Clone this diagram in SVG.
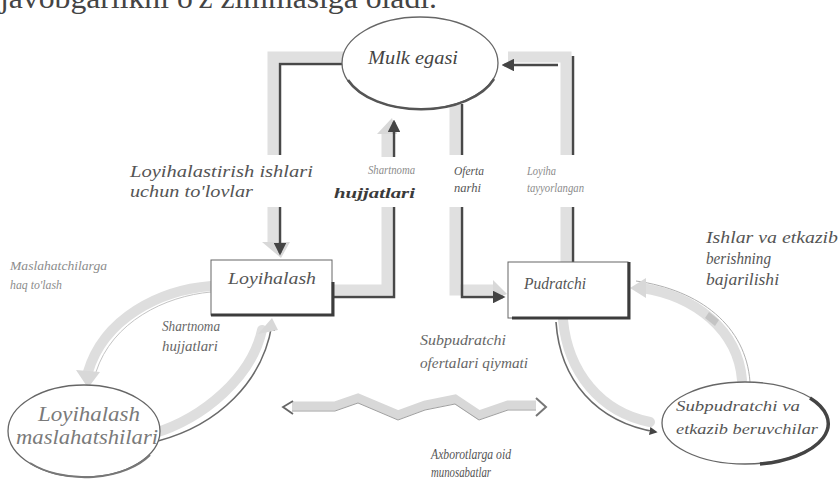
<svg xmlns="http://www.w3.org/2000/svg" width="840" height="481" viewBox="0 0 840 481">
<defs>
<style>
.t{font-family:"Liberation Serif","DejaVu Serif",serif;font-style:italic;fill:#555}
.l{fill:#8c8c8c}
.b{font-weight:bold;fill:#3a3a3a}
.box{fill:#fff;stroke:#666;stroke-width:1}
.sh{fill:none;stroke:#3c3c3c;stroke-width:3}
.band{fill:none;stroke:#e0e0e0;stroke-width:11}
.bandc{fill:none;stroke:#dedede;stroke-width:10;stroke-linecap:round}
.dk{fill:none;stroke:#484848;stroke-width:2.5}
.th{fill:none;stroke:#6a6a6a;stroke-width:1.6}
.gh{fill:#d8d8d8}
.ell{fill:#fff;stroke:#666;stroke-width:1.3}
</style>
<marker id="ah" viewBox="0 0 10 10" refX="8" refY="5" markerWidth="5" markerHeight="5" orient="auto"><path d="M0,0 L10,5 L0,10 z" fill="#444"/></marker>
</defs>
<rect width="840" height="481" fill="#fff"/>
<text class="t" x="0" y="8" font-size="30" style="font-style:normal;fill:#444" textLength="437" lengthAdjust="spacingAndGlyphs">javobgarlikni o'z zimmasiga oladi.</text>

<g id="connectors">
  <!-- Mulk egasi -> Loyihalash -->
  <path class="band" d="M345 57 H273 V155 M273 207 V244"/>
  <polygon class="gh" points="262,242 290,242 281,258"/>
  <path class="dk" d="M345 64 H280 V155 M280 207 V253" marker-end="url(#ah)"/>
  <!-- Loyihalash -> Mulk egasi (Shartnoma hujjatlari) -->
  <path class="band" d="M333 290 H387 V207 M387 157 V132"/>
  <polygon class="gh" points="377,134 397,134 392,118"/>
  <path class="dk" d="M333 297 H394 V207 M394 157 V122" marker-end="url(#ah)"/>
  <!-- Mulk egasi -> Pudratchi (Oferta narhi) -->
  <path class="band" d="M455 104 V155 M455 207 V290 H495"/>
  <polygon class="gh" points="493,280 493,300 507,294"/>
  <path class="dk" d="M462 104 V155 M462 207 V297 H503" marker-end="url(#ah)"/>
  <!-- Pudratchi -> Mulk egasi (Loyiha tayyorlangan) -->
  <path class="band" d="M566 262 V207 M566 155 V57 H508"/>
  <path class="dk" d="M573 262 V207 M573 155 V56"/>
  <path class="dk" d="M558 65 H504" marker-end="url(#ah)"/>
  <!-- Loyihalash -> maslahatshilari -->
  <path class="bandc" d="M211 286 C160 290 104 318 88 372"/>
  <path d="M211 292 C165 296 112 322 96 372" fill="none" stroke="#c4c4c4" stroke-width="1"/>
  <polygon class="gh" points="76,370 100,372 88,388"/>
  <!-- maslahatshilari -> Loyihalash -->
  <path class="bandc" d="M152 434 C205 418 252 376 262 330"/>
  <path class="th" d="M158 441 C218 425 263 382 272 324" marker-end="url(#ah)"/>
  <polygon class="gh" points="258,334 278,330 272,318"/>
  <!-- Pudratchi -> Subpudratchi -->
  <path class="bandc" d="M563 320 C568 372 600 412 650 422"/>
  <path class="th" d="M556 322 C560 380 596 422 656 432" marker-end="url(#ah)"/>
  <!-- Subpudratchi -> Pudratchi -->
  <path class="bandc" d="M742 380 C738 330 695 296 642 288"/>
  <path d="M750 382 C746 326 700 290 636 281" fill="none" stroke="#b0b0b0" stroke-width="1"/>
  <polygon class="gh" points="646,278 646,298 630,288"/>
  <path d="M709 312 l10 8 l-4 6 l-10 -8 z" fill="#c4c4c4"/>
  <!-- Axborotlarga oid munosabatlar -->
  <path d="M292 406 L335 406 L358 398 L398 415 L425 405 L455 399 L479 415 L508 405 L536 405" fill="none" stroke="#d8d8d8" stroke-width="9"/>
  <path d="M292 411 L335 411 L358 403 L398 420 L425 410 L455 404 L479 420 L508 410 L536 410" fill="none" stroke="#a0a0a0" stroke-width="1"/>
  <path d="M293 401 L283 407 L293 414" fill="none" stroke="#666" stroke-width="1.8"/>
  <path d="M536 398 L546 407 L536 416" fill="none" stroke="#777" stroke-width="2"/>
</g>

<g id="mulk-egasi">
  <ellipse class="ell" cx="420" cy="63" rx="78" ry="46"/>
  <path d="M348 80 A78 46 0 0 0 494 79" fill="none" stroke="#555" stroke-width="2.5"/>
  <text class="t" x="368" y="64" font-size="18" textLength="90" lengthAdjust="spacingAndGlyphs" style="fill:#444">Mulk egasi</text>
</g>

<g id="loyihalash">
  <rect class="box" x="211" y="260" width="121" height="55"/>
  <path class="sh" d="M211 315 H333 V282"/>
  <text class="t" x="228" y="284" font-size="16" textLength="88" lengthAdjust="spacingAndGlyphs">Loyihalash</text>
</g>

<g id="pudratchi">
  <rect class="box" x="508" y="262" width="120" height="56"/>
  <path class="sh" d="M512 318 H629 V262"/>
  <text class="t" x="524" y="289" font-size="16" textLength="62" lengthAdjust="spacingAndGlyphs">Pudratchi</text>
</g>

<g id="loyihalash-maslahatshilari">
  <ellipse class="ell" cx="84" cy="431" rx="76" ry="46"/>
  <path d="M30 463 A76 46 0 0 0 150 455" fill="none" stroke="#777" stroke-width="2"/>
  <text class="t" x="38" y="421" font-size="21" textLength="102" lengthAdjust="spacingAndGlyphs" style="fill:#7a7a7a">Loyihalash</text>
  <text class="t" x="16" y="444" font-size="21" textLength="142" lengthAdjust="spacingAndGlyphs" style="fill:#7a7a7a">maslahatshilari</text>
</g>

<g id="subpudratchi">
  <ellipse class="ell" cx="745" cy="423" rx="83" ry="41"/>
  <path d="M810 398 A83 41 0 0 1 760 464" fill="none" stroke="#444" stroke-width="3.5"/>
  <text class="t" x="676" y="411" font-size="15" textLength="124" lengthAdjust="spacingAndGlyphs">Subpudratchi va</text>
  <text class="t" x="676" y="434" font-size="15" textLength="142" lengthAdjust="spacingAndGlyphs">etkazib beruvchilar</text>
</g>

<g id="labels">
  <text class="t" x="130" y="177" font-size="16" textLength="183" lengthAdjust="spacingAndGlyphs">Loyihalastirish ishlari</text>
  <text class="t" x="130" y="197" font-size="16" textLength="123" lengthAdjust="spacingAndGlyphs">uchun to'lovlar</text>
  <text class="t l" x="368" y="174" font-size="12" textLength="47" lengthAdjust="spacingAndGlyphs">Shartnoma</text>
  <text class="t b" x="334" y="198" font-size="15" textLength="81" lengthAdjust="spacingAndGlyphs">hujjatlari</text>
  <text class="t" x="454" y="175" font-size="12" textLength="30" lengthAdjust="spacingAndGlyphs">Oferta</text>
  <text class="t" x="454" y="192" font-size="12" textLength="27" lengthAdjust="spacingAndGlyphs">narhi</text>
  <text class="t l" x="527" y="175" font-size="12" textLength="29" lengthAdjust="spacingAndGlyphs">Loyiha</text>
  <text class="t l" x="527" y="192" font-size="12" textLength="57" lengthAdjust="spacingAndGlyphs">tayyorlangan</text>
  <text class="t l" x="10" y="270" font-size="12" textLength="97" lengthAdjust="spacingAndGlyphs">Maslahatchilarga</text>
  <text class="t l" x="10" y="289" font-size="12" textLength="52" lengthAdjust="spacingAndGlyphs">haq to'lash</text>
  <text class="t" x="706" y="243" font-size="16" textLength="132" lengthAdjust="spacingAndGlyphs">Ishlar va etkazib</text>
  <text class="t" x="706" y="264" font-size="16" textLength="65" lengthAdjust="spacingAndGlyphs">berishning</text>
  <text class="t" x="706" y="285" font-size="16" textLength="73" lengthAdjust="spacingAndGlyphs">bajarilishi</text>
  <text class="t" x="162" y="331" font-size="15" textLength="58" lengthAdjust="spacingAndGlyphs" style="fill:#666">Shartnoma</text>
  <text class="t" x="162" y="351" font-size="15" textLength="56" lengthAdjust="spacingAndGlyphs" style="fill:#666">hujjatlari</text>
  <text class="t" x="420" y="345" font-size="15" textLength="86" lengthAdjust="spacingAndGlyphs" style="fill:#666">Subpudratchi</text>
  <text class="t" x="420" y="368" font-size="15" textLength="108" lengthAdjust="spacingAndGlyphs" style="fill:#666">ofertalari qiymati</text>
  <text class="t" x="431" y="459" font-size="14" textLength="80" lengthAdjust="spacingAndGlyphs">Axborotlarga oid</text>
  <text class="t" x="431" y="477" font-size="14" textLength="60" lengthAdjust="spacingAndGlyphs">munosabatlar</text>
</g>
</svg>
